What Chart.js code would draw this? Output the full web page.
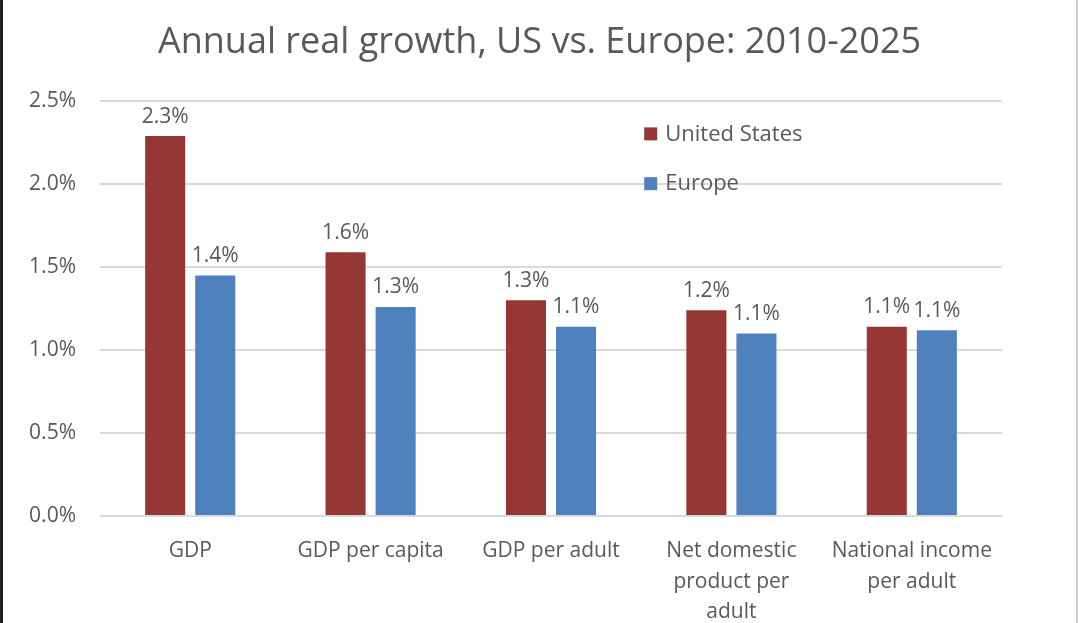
<!DOCTYPE html>
<html>
<head>
<meta charset="utf-8">
<script src="https://cdn.jsdelivr.net/npm/chart.js@4"></script>
<style>
  html, body { margin: 0; padding: 0; background: #fff; }
  #wrap { position: relative; width: 1078px; height: 623px; box-sizing: border-box;
          border-left: 3px solid #222; border-right: 2px solid #ccc; }
</style>
</head>
<body>
<div id="wrap"><canvas id="barGraph"></canvas></div>
<script>
const categories = [
  "GDP",
  "GDP per capita",
  "GDP per adult",
  ["Net domestic", "product per", "adult"],
  ["National income", "per adult"]
];
const usValues = [2.29, 1.59, 1.30, 1.24, 1.14];
const europeValues = [1.45, 1.26, 1.14, 1.10, 1.12];
const yTicks = [0, 0.5, 1.0, 1.5, 2.0, 2.5];

const textColor = "#595959";
const fontFamily = "'Open Sans', sans-serif";

// value labels above each bar
const barLabels = {
  id: "barLabels",
  afterDatasetsDraw(chart) {
    const ctx = chart.ctx;
    ctx.save();
    ctx.font = "21px " + fontFamily;
    ctx.fillStyle = textColor;
    ctx.textAlign = "center";
    ctx.textBaseline = "bottom";
    chart.data.datasets.forEach((ds, i) => {
      chart.getDatasetMeta(i).data.forEach((bar, j) => {
        ctx.fillText(ds.data[j].toFixed(1) + "%", bar.x, bar.y - 9);
      });
    });
    ctx.restore();
  }
};

// legend sitting inside the plot area
const innerLegend = {
  id: "innerLegend",
  afterDraw(chart) {
    const ctx = chart.ctx;
    const x = chart.scales.x.getPixelForValue(2.5) + 3;
    const yScale = chart.scales.y;
    const rows = [yScale.getPixelForValue(2.3), yScale.getPixelForValue(2.0)];
    ctx.save();
    ctx.font = "22px " + fontFamily;
    ctx.textBaseline = "middle";
    chart.data.datasets.forEach((ds, i) => {
      ctx.fillStyle = ds.backgroundColor;
      ctx.fillRect(x, rows[i] - 7, 13, 13);
      ctx.fillStyle = textColor;
      ctx.fillText(ds.label, x + 21, rows[i]);
    });
    ctx.restore();
  }
};

new Chart(document.getElementById("barGraph"), {
  type: "bar",
  data: {
    labels: categories,
    datasets: [
      { label: "United States", data: usValues, backgroundColor: "#953735" },
      { label: "Europe", data: europeValues, backgroundColor: "#4f81bd" }
    ]
  },
  options: {
    responsive: true,
    maintainAspectRatio: false,
    animation: false,
    categoryPercentage: 0.555,
    barPercentage: 0.8,
    layout: { padding: 0 },
    plugins: {
      legend: { display: false },
      tooltip: { enabled: false },
      title: {
        display: true,
        text: "Annual real growth, US vs. Europe: 2010-2025",
        color: textColor,
        font: { family: fontFamily, size: 36, weight: "normal" },
        padding: { top: 21, bottom: 37 }
      }
    },
    scales: {
      x: {
        grid: { display: false, drawTicks: false },
        border: { display: false },
        ticks: {
          color: textColor,
          font: { family: fontFamily, size: 21, lineHeight: 1.45 },
          padding: 20,
          maxRotation: 0,
          autoSkip: false
        },
        afterFit(scale) { scale.height = 107; }
      },
      y: {
        min: 0,
        max: 2.5,
        afterBuildTicks(scale) { scale.ticks = yTicks.map(v => ({ value: v })); },
        grid: { color: "#d9d9d9", lineWidth: 2, drawTicks: false },
        border: { display: false },
        ticks: {
          color: textColor,
          font: { family: fontFamily, size: 21 },
          padding: 24,
          callback: v => v.toFixed(1) + "%"
        },
        afterFit(scale) { scale.width = 97; }
      },
      // empty right-hand axis that only reserves the margin
      yRight: {
        position: "right",
        grid: { display: false, drawTicks: false },
        border: { display: false },
        ticks: { display: false },
        afterFit(scale) { scale.width = 74; }
      }
    }
  },
  plugins: [barLabels, innerLegend]
});
</script>
</body>
</html>
